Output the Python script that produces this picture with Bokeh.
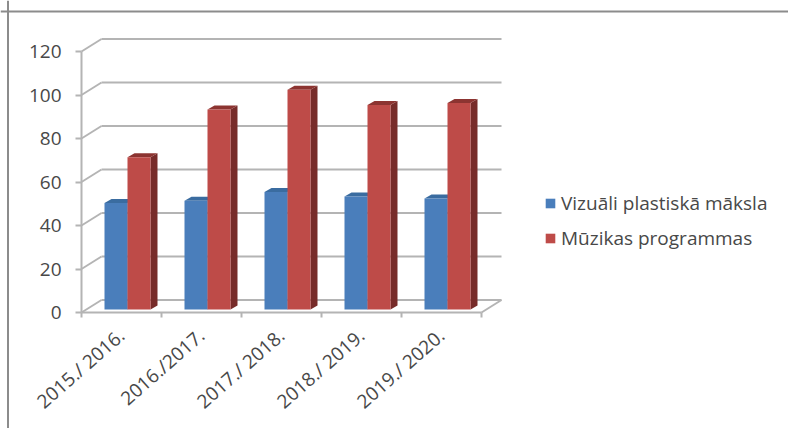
from bokeh.plotting import figure
from bokeh.models import Range1d, LinearAxis, FixedTicker, Legend, LegendItem, Span
from bokeh.embed import file_html
from bokeh.resources import INLINE

categories = ["2015./ 2016.", "2016./2017.", "2017./ 2018.", "2018./ 2019.", "2019./ 2020."]
visual = [49, 50, 54, 52, 51]
music = [70, 92, 101, 94, 95]
y_ticks = [0, 20, 40, 60, 80, 100, 120]
series_names = ["Vizuāli plastiskā māksla", "Mūzikas programmas"]

W, H = 788, 428
PX_X = 80.0
PX_Y = 261 / 120
X0, Y0 = 81, 312

p = figure(width=W, height=H, output_backend="svg", toolbar_location=None,
           x_range=Range1d(-X0 / PX_X, (W - X0) / PX_X),
           y_range=Range1d(-(H - Y0) / PX_Y, Y0 / PX_Y),
           x_axis_type=None, y_axis_type=None, min_border=0)
p.outline_line_color = None
p.grid.visible = False

GREY = "#b4b4b4"
TXT = "#484848"
FONT = "Open Sans"

# chart frame
p.add_layout(Span(location=(Y0 - 11) / PX_Y, dimension="width", line_color="#8c8c8c", line_width=2))
p.add_layout(Span(location=(7.5 - X0) / PX_X, dimension="height", line_color="#8c8c8c", line_width=2))

# back wall & floor
wall_dx, wall_dy = 20 / PX_X, 12.5 / PX_Y
n = len(categories)
p.segment([0] * len(y_ticks), y_ticks, [wall_dx] * len(y_ticks), [t + wall_dy for t in y_ticks],
          line_color=GREY, line_width=2)
p.segment([wall_dx] * len(y_ticks), [t + wall_dy for t in y_ticks],
          [n + wall_dx] * len(y_ticks), [t + wall_dy for t in y_ticks], line_color=GREY, line_width=2)
p.segment([n], [0], [n + wall_dx], [wall_dy], line_color=GREY, line_width=2)

# bars
bw = 23 / PX_X
gap = 23 / PX_X
base = 3 / PX_Y
dx, dy = 7 / PX_X, 4 / PX_Y
xs_blue = [i + gap + bw / 2 for i in range(n)]
xs_red = [i + gap + 3 * bw / 2 for i in range(n)]

def sides(xc, vals, side, top):
    for x, v in zip(xc, vals):
        l, r = x - bw / 2, x + bw / 2
        t = v + base
        p.patch([r, r + dx, r + dx, r], [base, base + dy, t + dy, t], fill_color=side, line_color=None)
        p.patch([l, l + dx, r + dx, r], [t, t + dy, t + dy, t], fill_color=top, line_color=None)

sides(xs_blue, visual, "#3a6595", "#3a6ca0")
r_blue = p.vbar(x=xs_blue, top=[v + base for v in visual], bottom=base, width=bw,
                fill_color="#4a7ebb", line_color=None)
sides(xs_red, music, "#772c2a", "#8c3431")
r_red = p.vbar(x=xs_red, top=[v + base for v in music], bottom=base, width=bw,
               fill_color="#be4b48", line_color=None)

# axes
yax = LinearAxis(fixed_location=0, ticker=FixedTicker(ticks=y_ticks), bounds=(0, 120))
yax.axis_line_color = GREY
yax.axis_line_width = 2
yax.major_tick_line_color = GREY
yax.major_tick_line_width = 2
yax.major_tick_out = 6
yax.major_tick_in = 0
yax.minor_tick_line_color = None
yax.major_label_text_font = FONT
yax.major_label_text_font_size = "19px"
yax.major_label_text_color = TXT
yax.major_label_standoff = 14
p.add_layout(yax, "left")

xax = LinearAxis(fixed_location=0,
                 ticker=FixedTicker(ticks=[i + 0.5 for i in range(n)], minor_ticks=list(range(n + 1))),
                 bounds=(0, n),
                 major_label_overrides={i + 0.5: c for i, c in enumerate(categories)})
xax.axis_line_color = GREY
xax.axis_line_width = 2
xax.major_tick_line_color = None
xax.minor_tick_line_color = GREY
xax.minor_tick_line_width = 2
xax.minor_tick_out = 5
xax.minor_tick_in = 0
xax.major_label_orientation = 0.72
xax.major_label_text_font = FONT
xax.major_label_text_font_size = "19px"
xax.major_label_text_color = TXT
xax.major_label_standoff = 14
p.add_layout(xax, "below")

legend = Legend(items=[LegendItem(label=series_names[0], renderers=[r_blue]),
                       LegendItem(label=series_names[1], renderers=[r_red])],
                location=(544, 177), border_line_color=None, background_fill_alpha=0,
                glyph_width=12, glyph_height=12, label_standoff=5, spacing=9,
                padding=0, margin=0, label_text_font=FONT, label_text_font_size="19px",
                label_text_color=TXT)
p.add_layout(legend, "center")

open("out.html", "w").write(file_html(p, INLINE))
